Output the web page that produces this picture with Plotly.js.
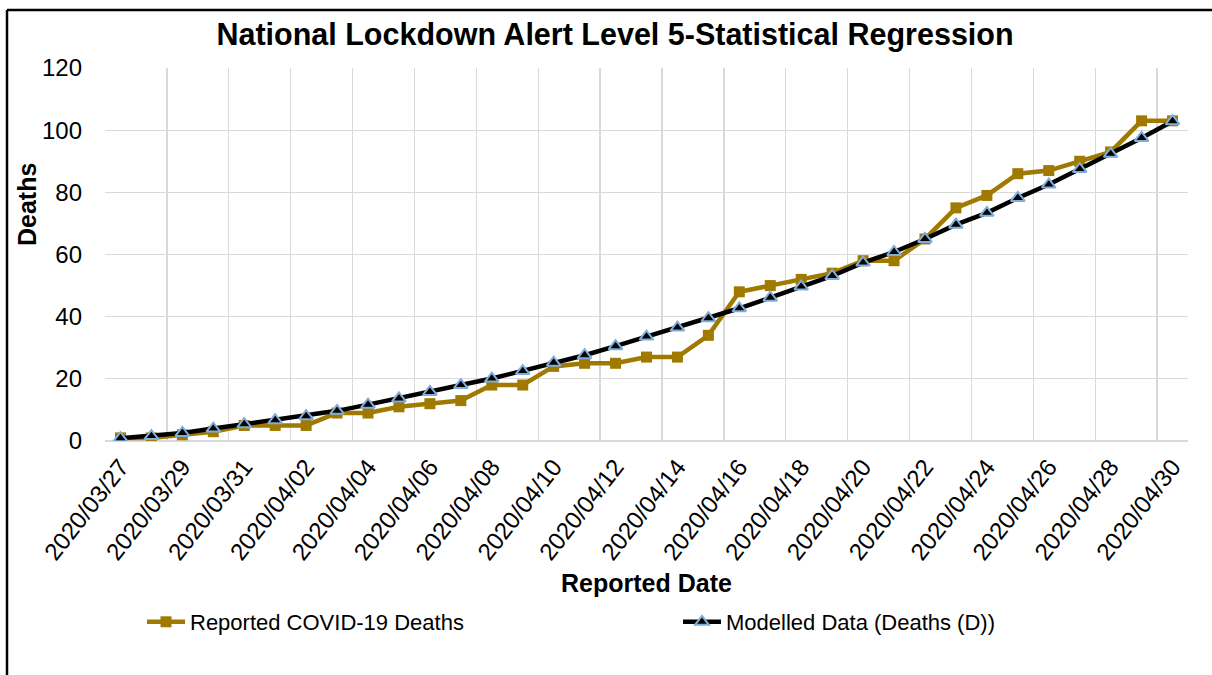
<!DOCTYPE html>
<html>
<head>
<meta charset="utf-8">
<script src="https://cdn.plot.ly/plotly-3.0.1.min.js"></script>
<style>html,body{margin:0;padding:0;background:#fff;}#chart{width:1212px;height:675px;}</style>
</head>
<body>
<div id="chart"></div>
<script>
const dates = ["2020/03/27","2020/03/28","2020/03/29","2020/03/30","2020/03/31",
  "2020/04/01","2020/04/02","2020/04/03","2020/04/04","2020/04/05","2020/04/06","2020/04/07",
  "2020/04/08","2020/04/09","2020/04/10","2020/04/11","2020/04/12","2020/04/13","2020/04/14",
  "2020/04/15","2020/04/16","2020/04/17","2020/04/18","2020/04/19","2020/04/20","2020/04/21",
  "2020/04/22","2020/04/23","2020/04/24","2020/04/25","2020/04/26","2020/04/27","2020/04/28",
  "2020/04/29","2020/04/30"];
const reportedDeaths = [1,1,2,3,5,5,5,9,9,11,12,13,18,18,24,25,25,27,27,34,48,50,52,54,58,58,65,75,79,86,87,90,93,103,103];
const modelledDeaths = [0.9,1.6,2.6,4.0,5.4,6.7,8.0,9.7,11.7,13.7,15.8,18.0,20.1,22.5,25.2,27.6,30.5,33.6,36.5,39.5,42.7,46.1,49.7,53.1,57.4,60.8,65.0,69.6,73.4,78.2,82.5,87.5,92.4,97.5,102.9];
const tickLabels = dates.filter((d, i) => i % 2 === 0);
const yTicks = [0,20,40,60,80,100,120];

const FONT = "Liberation Sans, Arial, sans-serif";
const nCat = dates.length;
const boundaryVals = [];
for (let i = 0; i < nCat; i += 2) boundaryVals.push(i - 0.5);

// plot area in pixels (for paper-coordinate conversions)
const PL = 105, PR = 1188, PT = 68, PB = 441;
const px = v => (v - PL) / (PR - PL);
const py = v => (PB - v) / (PB - PT);

const traces = [
  {
    x: dates, y: reportedDeaths, type: "scatter", mode: "lines+markers",
    name: "Reported COVID-19 Deaths", legend: "legend",
    line: {color: "#A07A00", width: 4.5},
    marker: {symbol: "square", size: 11, color: "#A07A00"}
  },
  {
    x: dates, y: modelledDeaths, type: "scatter", mode: "lines+markers",
    name: "Modelled Data (Deaths (D))", legend: "legend2",
    line: {color: "#000000", width: 4.5},
    marker: {symbol: "triangle-up", size: 12, color: "#000000", line: {color: "#7FAEDB", width: 2}}
  },
  // empty helper trace so the boundary-grid axis is drawn
  {x: [], y: [], xaxis: "x2", yaxis: "y", type: "scatter", mode: "lines", showlegend: false, hoverinfo: "skip"}
];

const legendBase = {
  orientation: "h", xanchor: "left", yanchor: "middle",
  y: py(622),
  font: {family: FONT, size: 22, color: "#000"},
  bgcolor: "rgba(0,0,0,0)", itemwidth: 38
};

const layout = {
  width: 1212, height: 675,
  paper_bgcolor: "#ffffff", plot_bgcolor: "#ffffff",
  margin: {l: PL, r: 1212 - PR, t: PT, b: 675 - PB},
  font: {family: FONT, color: "#000"},
  title: {
    text: "<b>National Lockdown Alert Level 5-Statistical Regression</b>",
    font: {family: FONT, size: 30.5, color: "#000"},
    x: 615/1212, xref: "container", xanchor: "center",
    y: 1 - 34/675, yref: "container", yanchor: "middle"
  },
  xaxis: {
    type: "category",
    range: [-0.5, nCat - 0.5],
    tickmode: "array", tickvals: tickLabels, ticktext: tickLabels,
    tickangle: -52,
    tickfont: {family: FONT, size: 24, color: "#000"},
    showgrid: false, zeroline: false, showline: false,
    ticks: "", ticklabelstandoff: 6,
    title: {text: "<b>Reported Date</b>", font: {family: FONT, size: 25, color: "#000"}, standoff: 10}
  },
  xaxis2: {
    overlaying: "x", type: "linear", side: "bottom",
    range: [-0.5, nCat - 0.5],
    tickmode: "array", tickvals: boundaryVals,
    showticklabels: false, ticks: "",
    showgrid: true, gridcolor: "#D9D9D9", gridwidth: 1.3,
    zeroline: false, showline: false
  },
  yaxis: {
    range: [0, 120], tickmode: "array", tickvals: yTicks,
    tickfont: {family: FONT, size: 24, color: "#000"},
    showgrid: true, gridcolor: "#D9D9D9", gridwidth: 1.3,
    zeroline: true, zerolinecolor: "#D9D9D9", zerolinewidth: 1.3,
    showline: false, ticks: "", ticklabelstandoff: 22
  },
  annotations: [
    {text: "<b>Deaths</b>", textangle: -90, xref: "paper", yref: "paper",
     x: px(27), y: py(205), xanchor: "center", yanchor: "middle", showarrow: false,
     font: {family: FONT, size: 25, color: "#000"}}
  ],
  showlegend: true,
  legend: Object.assign({}, legendBase, {x: px(142)}),
  legend2: Object.assign({}, legendBase, {x: px(678)}),
  shapes: [
    {type: "line", xref: "paper", yref: "paper", x0: px(7), x1: px(7), y0: py(10), y1: py(680), line: {color: "#000", width: 2.5}},
    {type: "line", xref: "paper", yref: "paper", x0: px(7), x1: px(1215), y0: py(10), y1: py(10), line: {color: "#000", width: 2.5}}
  ]
};

Plotly.newPlot("chart", traces, layout, {displayModeBar: false, staticPlot: true});
</script>
</body>
</html>
